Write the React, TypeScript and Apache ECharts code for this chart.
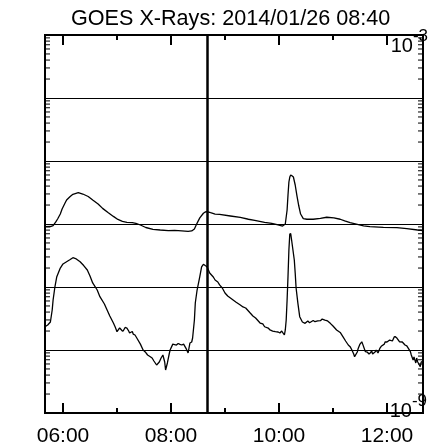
import React, { useEffect, useRef } from "react";
import * as echarts from "echarts";

const TITLE = "GOES X-Rays: 2014/01/26 08:40";
const FONT = "'Liberation Sans', Arial, Helvetica, sans-serif";

const timeStart = "05:40";
const timeEnd = "12:40";
const currentTime = "08:40";
const majorTimeTicks = ["06:00", "08:00", "10:00", "12:00"];
const minorTimeTicks = ["07:00", "09:00", "11:00"];

const fluxMin = 1e-9;
const fluxMax = 1e-3;
const classLetters = ["A", "B", "C", "M", "X"];
const classExponents = [-8, -7, -6, -5, -4];

const longChannel: [string, number][] = [
  ["05:40", 9.06e-7], ["05:46", 9.12e-7], ["05:49", 9.46e-7], ["05:52", 1.08e-6],
  ["05:54", 1.2e-6], ["05:57", 1.44e-6], ["05:59", 1.73e-6], ["06:02", 2.11e-6],
  ["06:04", 2.4e-6], ["06:08", 2.73e-6], ["06:11", 2.96e-6], ["06:17", 3.14e-6],
  ["06:22", 2.99e-6], ["06:28", 2.73e-6], ["06:33", 2.4e-6], ["06:39", 2.08e-6],
  ["06:44", 1.77e-6], ["06:50", 1.52e-6], ["06:56", 1.32e-6], ["07:01", 1.18e-6],
  ["07:06", 1.1e-6], ["07:11", 1.06e-6], ["07:17", 1.05e-6], ["07:21", 1.02e-6],
  ["07:26", 9.64e-7], ["07:32", 8.8e-7], ["07:40", 8.24e-7], ["07:48", 8.03e-7],
  ["07:57", 7.83e-7], ["08:04", 7.94e-7], ["08:12", 7.8e-7], ["08:19", 7.66e-7],
  ["08:23", 7.75e-7], ["08:26", 8.34e-7], ["08:28", 9.64e-7], ["08:30", 1.1e-6],
  ["08:32", 1.25e-6], ["08:36", 1.48e-6], ["08:38", 1.55e-6], ["08:40", 1.57e-6],
  ["08:44", 1.51e-6], ["08:49", 1.44e-6], ["08:54", 1.42e-6], ["09:06", 1.34e-6],
  ["09:17", 1.27e-6], ["09:26", 1.19e-6], ["09:33", 1.14e-6], ["09:44", 1.06e-6],
  ["09:52", 1.02e-6], ["09:59", 9.71e-7], ["10:04", 9.29e-7], ["10:07", 1.0e-6],
  ["10:09", 1.67e-6], ["10:10", 2.89e-6], ["10:11", 4.64e-6], ["10:12", 5.57e-6],
  ["10:13", 6.0e-6], ["10:14", 5.89e-6], ["10:16", 5.57e-6], ["10:18", 4.16e-6],
  ["10:20", 2.78e-6], ["10:22", 1.93e-6], ["10:24", 1.44e-6], ["10:27", 1.22e-6],
  ["10:31", 1.19e-6], ["10:38", 1.19e-6], ["10:46", 1.23e-6], ["10:53", 1.28e-6],
  ["11:01", 1.25e-6], ["11:08", 1.19e-6], ["11:13", 1.12e-6], ["11:19", 1.05e-6],
  ["11:27", 9.89e-7], ["11:34", 9.36e-7], ["11:41", 9.06e-7], ["11:56", 8.87e-7],
  ["12:11", 8.73e-7], ["12:22", 8.42e-7], ["12:34", 8.03e-7], ["12:40", 7.89e-7],
];

const shortChannel: [string, number][] = [
  ["05:40", 2.34e-8], ["05:43", 2.49e-8], ["05:46", 2.78e-8], ["05:48", 4.31e-8],
  ["05:49", 6.22e-8], ["05:51", 1.0e-7], ["05:53", 1.44e-7], ["05:57", 2.0e-7],
  ["06:00", 2.32e-7], ["06:04", 2.52e-7], ["06:08", 2.73e-7], ["06:11", 2.92e-7],
  ["06:14", 2.83e-7], ["06:19", 2.52e-7], ["06:23", 2.19e-7], ["06:27", 1.86e-7],
  ["06:30", 1.5e-7], ["06:33", 1.16e-7], ["06:38", 8.96e-8], ["06:41", 7.02e-8],
  ["06:46", 5.37e-8], ["06:49", 4.31e-8], ["06:52", 3.47e-8], ["06:56", 2.68e-8],
  ["06:58", 2.32e-8], ["07:00", 1.95e-8], ["07:02", 2.15e-8], ["07:03", 2.23e-8],
  ["07:06", 2.0e-8], ["07:07", 2.02e-8], ["07:09", 2.28e-8], ["07:11", 2.23e-8],
  ["07:13", 2.0e-8], ["07:14", 1.86e-8], ["07:17", 1.97e-8], ["07:18", 1.79e-8],
  ["07:20", 1.73e-8], ["07:22", 1.55e-8], ["07:26", 1.24e-8], ["07:29", 1.0e-8],
  ["07:32", 9.12e-9], ["07:34", 8.33e-9], ["07:37", 7.83e-9], ["07:39", 7.46e-9],
  ["07:41", 6.69e-9], ["07:44", 5.78e-9], ["07:47", 6.45e-9], ["07:49", 7.46e-9],
  ["07:51", 8.33e-9], ["07:53", 6.45e-9], ["07:54", 4.82e-9], ["07:56", 6.22e-9],
  ["07:58", 8.64e-9], ["07:59", 1.0e-8], ["08:02", 1.24e-8], ["08:06", 1.2e-8],
  ["08:08", 1.27e-8], ["08:10", 1.23e-8], ["08:12", 1.2e-8], ["08:14", 1.24e-8],
  ["08:17", 1.04e-8], ["08:19", 8.96e-9], ["08:21", 1.29e-8], ["08:23", 1.34e-8],
  ["08:24", 1.55e-8], ["08:26", 2.99e-8], ["08:27", 5.57e-8], ["08:29", 8.96e-8],
  ["08:31", 1.24e-7], ["08:32", 1.46e-7], ["08:34", 2.08e-7], ["08:36", 2.29e-7],
  ["08:38", 2.19e-7], ["08:40", 2.1e-7], ["08:43", 1.67e-7], ["08:47", 1.44e-7],
  ["08:49", 1.29e-7], ["08:52", 1.2e-7], ["08:54", 1.08e-7], ["08:57", 9.64e-8],
  ["09:00", 8.03e-8], ["09:03", 7.2e-8], ["09:06", 6.69e-8], ["09:09", 6.22e-8],
  ["09:12", 5.78e-8], ["09:17", 5.18e-8], ["09:20", 4.82e-8], ["09:23", 4.64e-8],
  ["09:28", 3.86e-8], ["09:31", 3.47e-8], ["09:34", 3.22e-8], ["09:39", 2.68e-8],
  ["09:42", 2.59e-8], ["09:44", 2.34e-8], ["09:48", 2.23e-8], ["09:50", 2.08e-8],
  ["09:53", 2.0e-8], ["09:56", 1.95e-8], ["09:59", 1.93e-8], ["10:01", 1.86e-8],
  ["10:03", 2.0e-8], ["10:06", 1.73e-8], ["10:07", 2.08e-8], ["10:08", 2.99e-8],
  ["10:09", 6.22e-8], ["10:10", 1.46e-7], ["10:11", 3.86e-7], ["10:12", 6.94e-7],
  ["10:13", 7.07e-7], ["10:14", 5.57e-7], ["10:17", 2.68e-7], ["10:18", 1.67e-7],
  ["10:19", 9.64e-8], ["10:21", 5.51e-8], ["10:23", 3.38e-8], ["10:26", 2.78e-8],
  ["10:29", 2.65e-8], ["10:32", 2.89e-8], ["10:34", 2.71e-8], ["10:38", 2.94e-8],
  ["10:40", 2.81e-8], ["10:43", 2.89e-8], ["10:46", 2.92e-8], ["10:48", 3.1e-8],
  ["10:51", 2.99e-8], ["10:54", 2.89e-8], ["10:57", 2.65e-8], ["11:00", 2.4e-8],
  ["11:04", 2.08e-8], ["11:08", 1.9e-8], ["11:11", 1.63e-8], ["11:14", 1.39e-8],
  ["11:17", 1.2e-8], ["11:19", 1.13e-8], ["11:21", 1.0e-8], ["11:23", 8.64e-9],
  ["11:24", 7.83e-9], ["11:27", 9.29e-9], ["11:28", 1.06e-8], ["11:30", 1.24e-8],
  ["11:32", 1.35e-8], ["11:33", 1.24e-8], ["11:36", 9.4e-9], ["11:38", 9.29e-9],
  ["11:40", 8.64e-9], ["11:41", 8.87e-9], ["11:43", 9.64e-9], ["11:44", 8.64e-9],
  ["11:47", 9.4e-9], ["11:48", 1.0e-8], ["11:50", 8.96e-9], ["11:52", 1.06e-8],
  ["11:54", 1.16e-8], ["11:57", 1.24e-8], ["11:58", 1.35e-8], ["12:00", 1.34e-8],
  ["12:03", 1.44e-8], ["12:06", 1.39e-8], ["12:08", 1.61e-8], ["12:09", 1.63e-8],
  ["12:11", 1.55e-8], ["12:14", 1.35e-8], ["12:17", 1.34e-8], ["12:20", 1.2e-8],
  ["12:22", 1.16e-8], ["12:26", 9.4e-9], ["12:27", 8.33e-9], ["12:29", 6.94e-9],
  ["12:30", 7.74e-9], ["12:32", 6.22e-9], ["12:33", 7.46e-9], ["12:34", 6.52e-9],
  ["12:37", 5.43e-9], ["12:38", 6.45e-9], ["12:40", 6.52e-9],
];

const toMin = (s: string) => {
  const [h, m] = s.split(":").map(Number);
  return h * 60 + m;
};
const fmtTime = (v: number) => {
  const h = Math.floor(v / 60);
  const m = Math.round(v - h * 60);
  return `${String(h).padStart(2, "0")}:${String(m).padStart(2, "0")}`;
};

export default function App() {
  const ref = useRef<HTMLDivElement>(null);

  useEffect(() => {
    if (!ref.current) return;
    const chart = echarts.init(ref.current, null, { renderer: "svg" });

    const tMin = toMin(timeStart);
    const tMax = toMin(timeEnd);
    const eMin = Math.log10(fluxMin);
    const eMax = Math.log10(fluxMax);
    const black = "#000";
    const noSplit = { show: false };
    const hidden = {
      splitLine: noSplit,
      axisLabel: { show: false },
      axisTick: { show: false },
      axisLine: { show: false, onZero: false },
    };
    const yBase = { type: "value", min: eMin, max: eMax, interval: 1, ...hidden };
    const richPow = {
      a: { fontSize: 20, lineHeight: 20, verticalAlign: "bottom", color: black, fontFamily: FONT },
      b: { fontSize: 17, lineHeight: 39, verticalAlign: "middle", color: black, fontFamily: FONT },
    };

    chart.setOption({
      animation: false,
      title: {
        text: TITLE,
        left: 71,
        top: 6,
        padding: 0,
        textStyle: { fontSize: 21.6, fontWeight: "normal", color: black, fontFamily: FONT },
      },
      grid: {
        left: 45, top: 35, right: 9, bottom: 35,
        outerBoundsMode: "none",
        show: true,
        borderColor: black,
        borderWidth: 2,
      },
      xAxis: [
        {
          type: "value",
          min: tMin,
          max: tMax,
          splitLine: noSplit,
          axisLine: { show: false, onZero: false },
          axisTick: { show: false },
          axisLabel: {
            customValues: majorTimeTicks.map(toMin),
            formatter: (v: number) => fmtTime(v),
            fontSize: 21,
            color: black,
            fontFamily: FONT,
            margin: 11,
          },
        },
      ],
      yAxis: [
        { type: "log", min: fluxMin, max: fluxMax, ...hidden },
        {
          ...yBase,
          splitLine: { show: true, lineStyle: { color: black, width: 1 } },
          axisLabel: {
            show: true,
            customValues: classExponents,
            formatter: (v: number) => classLetters[classExponents.indexOf(Math.round(v))] ?? "",
            fontSize: 22,
            color: black,
            fontFamily: FONT,
            align: "center",
            margin: 23,
          },
        },
        {
          ...yBase,
          axisLabel: {
            show: true,
            customValues: [eMax],
            formatter: (v: number) => `{a|10}{b|${Math.round(v)}}`,
            align: "right",
            verticalAlign: "middle",
            margin: 5,
            rich: richPow,
          },
        },
        {
          ...yBase,
          axisLabel: {
            show: true,
            customValues: [eMin],
            formatter: (v: number) => `{a|10}{b|${Math.round(v)}}`,
            align: "right",
            verticalAlign: "middle",
            margin: 4,
            padding: [0, 0, 25, 0],
            rich: richPow,
          },
        },
      ],
      series: [
        {
          type: "line",
          showSymbol: false,
          lineStyle: { color: black, width: 1.3 },
          data: longChannel.map(([t, v]) => [toMin(t), v]),
          markLine: {
            silent: true,
            symbol: "none",
            label: { show: false },
            lineStyle: { color: black, width: 2.5, type: "solid" },
            data: [{ xAxis: toMin(currentTime) }],
          },
        },
        {
          type: "line",
          showSymbol: false,
          lineStyle: { color: black, width: 1.3 },
          data: shortChannel.map(([t, v]) => [toMin(t), v]),
        },
      ],
    } as any);

    const toPx = (t: number, v: number) =>
      chart.convertToPixel({ xAxisIndex: 0, yAxisIndex: 0 } as any, [t, v]) as number[];
    const els: any[] = [];
    const addLine = (x1: number, y1: number, x2: number, y2: number, w: number) =>
      els.push({ type: "line", shape: { x1, y1, x2, y2 }, style: { stroke: "#000", lineWidth: w } });
    const timeTickDefs: [string, number][] = [
      ...majorTimeTicks.map((t) => [t, 10] as [string, number]),
      ...minorTimeTicks.map((t) => [t, 5] as [string, number]),
    ];
    timeTickDefs.forEach(([t, len]) => {
      const b = toPx(toMin(t), fluxMin);
      const tp = toPx(toMin(t), fluxMax);
      addLine(b[0], b[1], b[0], b[1] - len, 2);
      addLine(tp[0], tp[1], tp[0], tp[1] + len, 2);
    });
    for (let e = eMin; e < eMax; e++) {
      for (let k = 2; k <= 9; k++) {
        const v = k * Math.pow(10, e);
        const l = toPx(tMin, v);
        const r = toPx(tMax, v);
        addLine(l[0], l[1], l[0] + 5, l[1], 1);
        addLine(r[0], r[1], r[0] - 5, r[1], 1);
      }
    }
    chart.setOption({ graphic: { elements: els } });

    return () => chart.dispose();
  }, []);

  return <div ref={ref} style={{ position: "fixed", left: 0, top: 0, width: 432, height: 448 }} />;
}
